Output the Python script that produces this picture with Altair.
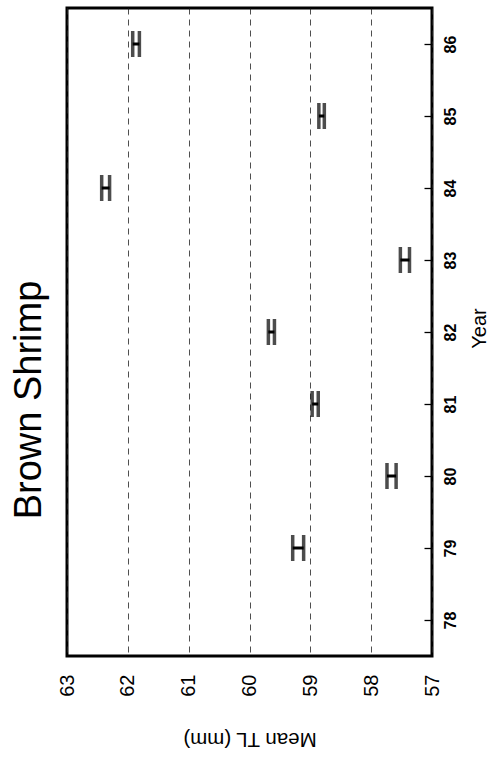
import altair as alt
import pandas as pd

# Brown shrimp: mean total length range by survey year
years = [79, 80, 81, 82, 83, 84, 85, 86]
tl_low = [59.11, 57.59, 58.87, 59.59, 57.37, 62.30, 58.77, 61.81]
tl_high = [59.29, 57.74, 58.97, 59.69, 57.52, 62.43, 58.86, 61.92]

year_ticks = [78, 79, 80, 81, 82, 83, 84, 85, 86]
tl_ticks = [57, 58, 59, 60, 61, 62, 63]

df = pd.DataFrame({"year": years, "lo": tl_low, "hi": tl_high})

W, H = 365, 648
FONT = "Liberation Sans"
TICK = 8  # year ticks point inward from the right frame

x_scale = alt.Scale(domain=[57, 63], reverse=True, nice=False, zero=False)
y_scale = alt.Scale(domain=[77.5, 86.5], nice=False, zero=False)

x_axis = alt.Axis(
    values=tl_ticks, format="d", orient="bottom",
    labelAngle=270, labelAlign="right", labelBaseline="middle",
    labelFont=FONT, labelFontSize=20, labelColor="black", labelPadding=18,
    ticks=False, domain=False,
    grid=True, gridDash=[6, 5], gridColor="#222", gridWidth=0.8,
    title="Mean TL (mm)", titleFont=FONT, titleFontSize=20.5,
    titleFontWeight="normal", titleColor="black",
    titleAngle=180, titleBaseline="bottom", titleY=72,
)

# the axis is pulled inside the frame so its outward ticks sit inside the plot
y_axis = alt.Axis(
    values=year_ticks, format="d", orient="right", offset=-TICK,
    labelAngle=270, labelAlign="center", labelBaseline="middle",
    labelFont=FONT, labelFontSize=16, labelFontWeight="bold",
    labelColor="black", labelPadding=18,
    ticks=True, tickSize=TICK, tickColor="black", tickWidth=1.3,
    domain=False, grid=False,
    title="Year", titleFont=FONT, titleFontSize=20,
    titleFontWeight="normal", titleColor="black",
    titleAngle=270, titleAlign="center", titleBaseline="middle",
    titleX=47 + TICK, titleY=320,
)

chart = alt.Chart(df).mark_errorbar(
    color="black", thickness=3,
    ticks={"size": 26, "thickness": 3.5, "color": "black"},
).encode(
    x=alt.X("lo:Q", scale=x_scale, axis=x_axis),
    x2="hi:Q",
    y=alt.Y("year:Q", scale=y_scale, axis=y_axis),
).properties(
    width=W, height=H,
    title=alt.TitleParams(
        "Brown Shrimp", orient="left", anchor="middle",
        font=FONT, fontSize=38, fontWeight="normal", color="black",
        dx=-68, offset=8,
    ),
    autosize=alt.AutoSizeParams(type="none"),
    padding={"left": 67, "top": 8, "right": 60, "bottom": 101},
).configure(
    background="white"
).configure_view(
    stroke="black", strokeWidth=3
)

chart.save("out.html", embed_options={"renderer": "svg", "actions": False})
